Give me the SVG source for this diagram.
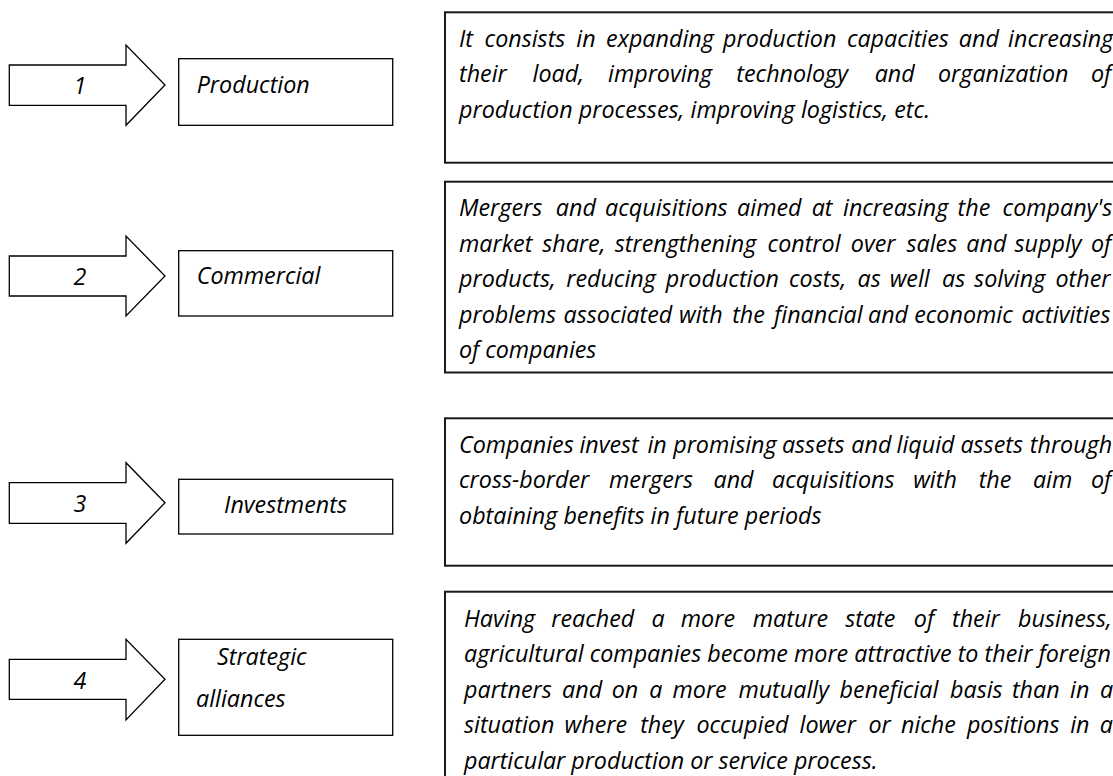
<svg xmlns="http://www.w3.org/2000/svg" width="1113" height="776" viewBox="0 0 1113 776">
<style>
.t{font-family:"Open Sans","Noto Sans","Liberation Sans",sans-serif;font-style:italic;font-size:23.3px;fill:#000}
.arr{fill:#fff;stroke:#000;stroke-width:1.3;stroke-linejoin:miter}
.nb{fill:#fff;stroke:#000;stroke-width:1.3}
.db{fill:#fff;stroke:#1a1a1a;stroke-width:2}
</style>
<rect x="0" y="0" width="1113" height="776" fill="#fff"/>

<g id="connectors">
<polygon class="arr" points="9.3,65 126,65 126,45 165,85 126,125.3 126,105.3 9.3,105.3"/>
<polygon class="arr" points="9.3,256 126,256 126,236 165,276 126,316 126,296 9.3,296"/>
<polygon class="arr" points="9.3,482.7 126,482.7 126,462.7 165,502.7 126,543.3 126,523.3 9.3,523.3"/>
<polygon class="arr" points="9.3,659.3 126,659.3 126,639.3 165,679.3 126,720 126,699.3 9.3,699.3"/>
<text class="t" x="80" y="93.5" text-anchor="middle">1</text>
<text class="t" x="80" y="285" text-anchor="middle">2</text>
<text class="t" x="80" y="511.5" text-anchor="middle">3</text>
<text class="t" x="80" y="688.5" text-anchor="middle">4</text>
</g>

<g id="node-production">
<rect class="nb" x="178.7" y="58.7" width="214" height="66.6"/>
<text class="t" x="196.7" y="93">Production</text>
</g>
<g id="node-commercial">
<rect class="nb" x="178.7" y="250.7" width="214" height="65.3"/>
<text class="t" x="196.7" y="283.5">Commercial</text>
</g>
<g id="node-investments">
<rect class="nb" x="178.7" y="479.3" width="214" height="54.7"/>
<text class="t" x="285.5" y="512.5" text-anchor="middle">Investments</text>
</g>
<g id="node-strategic">
<rect class="nb" x="178.7" y="639.3" width="214" height="96"/>
<text class="t" x="217" y="664.5">Strategic</text>
<text class="t" x="196" y="707">alliances</text>
</g>

<g id="desc-production">
<rect class="db" x="445" y="12.3" width="700" height="150.4"/>
<text class="t" y="46.5"><tspan x="459">It</tspan> <tspan x="484.6">consists</tspan> <tspan x="576.3">in</tspan> <tspan x="606.1">expanding</tspan> <tspan x="723">production</tspan> <tspan x="846.9">capacities</tspan> <tspan x="958.8">and</tspan> <tspan x="1008.1">increasing</tspan></text>
<text class="t" y="82"><tspan x="459">their</tspan> <tspan x="532.6">load,</tspan> <tspan x="608">improving</tspan> <tspan x="736.3">technology</tspan> <tspan x="874.7">and</tspan> <tspan x="938">organization</tspan> <tspan x="1091">of</tspan></text>
<text class="t" x="459" y="117.5" textLength="471" lengthAdjust="spacing">production processes, improving logistics, etc.</text>
</g>

<g id="desc-commercial">
<rect class="db" x="445" y="181.7" width="700" height="190.8"/>
<text class="t" y="216"><tspan x="459">Mergers</tspan> <tspan x="555.8">and</tspan> <tspan x="605.1">acquisitions</tspan> <tspan x="737.1">aimed</tspan> <tspan x="811.7">at</tspan> <tspan x="843">increasing</tspan> <tspan x="957.6">the</tspan> <tspan x="1002.6">company's</tspan></text>
<text class="t" y="251.5"><tspan x="459">market</tspan> <tspan x="542.2">share,</tspan> <tspan x="614.8">strengthening</tspan> <tspan x="767.6">control</tspan> <tspan x="850.8">over</tspan> <tspan x="906.5">sales</tspan> <tspan x="966.3">and</tspan> <tspan x="1014.5">supply</tspan> <tspan x="1090.9">of</tspan></text>
<text class="t" y="287"><tspan x="459">products,</tspan> <tspan x="566.2">reducing</tspan> <tspan x="665.7">production</tspan> <tspan x="789">costs,</tspan> <tspan x="857.6">as</tspan> <tspan x="889.7">well</tspan> <tspan x="942">as</tspan> <tspan x="974.1">solving</tspan> <tspan x="1055.5">other</tspan></text>
<text class="t" y="322.5"><tspan x="459">problems</tspan> <tspan x="563.5">associated</tspan> <tspan x="679">with</tspan> <tspan x="732.2">the</tspan> <tspan x="774">financial</tspan> <tspan x="868">and</tspan> <tspan x="914.2">economic</tspan> <tspan x="1021.4">activities</tspan></text>
<text class="t" x="459" y="358" textLength="137.4" lengthAdjust="spacing">of companies</text>
</g>

<g id="desc-investments">
<rect class="db" x="445" y="418.3" width="700" height="147.4"/>
<text class="t" y="452.8"><tspan x="459">Companies</tspan> <tspan x="579.4">invest</tspan> <tspan x="647.4">in</tspan> <tspan x="673.2">promising</tspan> <tspan x="781.9">assets</tspan> <tspan x="851.3">and</tspan> <tspan x="896.6">liquid</tspan> <tspan x="960.4">assets</tspan> <tspan x="1029.8">through</tspan></text>
<text class="t" y="488.3"><tspan x="459">cross-border</tspan> <tspan x="609">mergers</tspan> <tspan x="713.5">and</tspan> <tspan x="772">acquisitions</tspan> <tspan x="913.2">with</tspan> <tspan x="978.7">the</tspan> <tspan x="1032.9">aim</tspan> <tspan x="1090.9">of</tspan></text>
<text class="t" x="459" y="523.8" textLength="362.6" lengthAdjust="spacing">obtaining benefits in future periods</text>
</g>

<g id="desc-strategic">
<rect class="db" x="445" y="591.7" width="700" height="210"/>
<text class="t" y="626.5"><tspan x="464">Having</tspan> <tspan x="551.2">reached</tspan> <tspan x="651.5">a</tspan> <tspan x="680.8">more</tspan> <tspan x="752.8">mature</tspan> <tspan x="845.2">state</tspan> <tspan x="913.8">of</tspan> <tspan x="952">their</tspan> <tspan x="1018">business,</tspan></text>
<text class="t" x="464" y="662" textLength="647" lengthAdjust="spacing">agricultural companies become more attractive to their foreign</text>
<text class="t" y="697.5"><tspan x="464">partners</tspan> <tspan x="562.1">and</tspan> <tspan x="611.7">on</tspan> <tspan x="649.3">a</tspan> <tspan x="672.5">more</tspan> <tspan x="738.4">mutually</tspan> <tspan x="839.6">beneficial</tspan> <tspan x="950">basis</tspan> <tspan x="1011.9">than</tspan> <tspan x="1070">in</tspan> <tspan x="1100.1">a</tspan></text>
<text class="t" y="733"><tspan x="464">situation</tspan> <tspan x="564.6">where</tspan> <tspan x="640.2">they</tspan> <tspan x="696.4">occupied</tspan> <tspan x="799.5">lower</tspan> <tspan x="868.4">or</tspan> <tspan x="901">niche</tspan> <tspan x="966.9">positions</tspan> <tspan x="1070.2">in</tspan> <tspan x="1099.7">a</tspan></text>
<text class="t" x="464" y="768.5" textLength="413.5" lengthAdjust="spacing">particular production or service process.</text>
</g>
</svg>
